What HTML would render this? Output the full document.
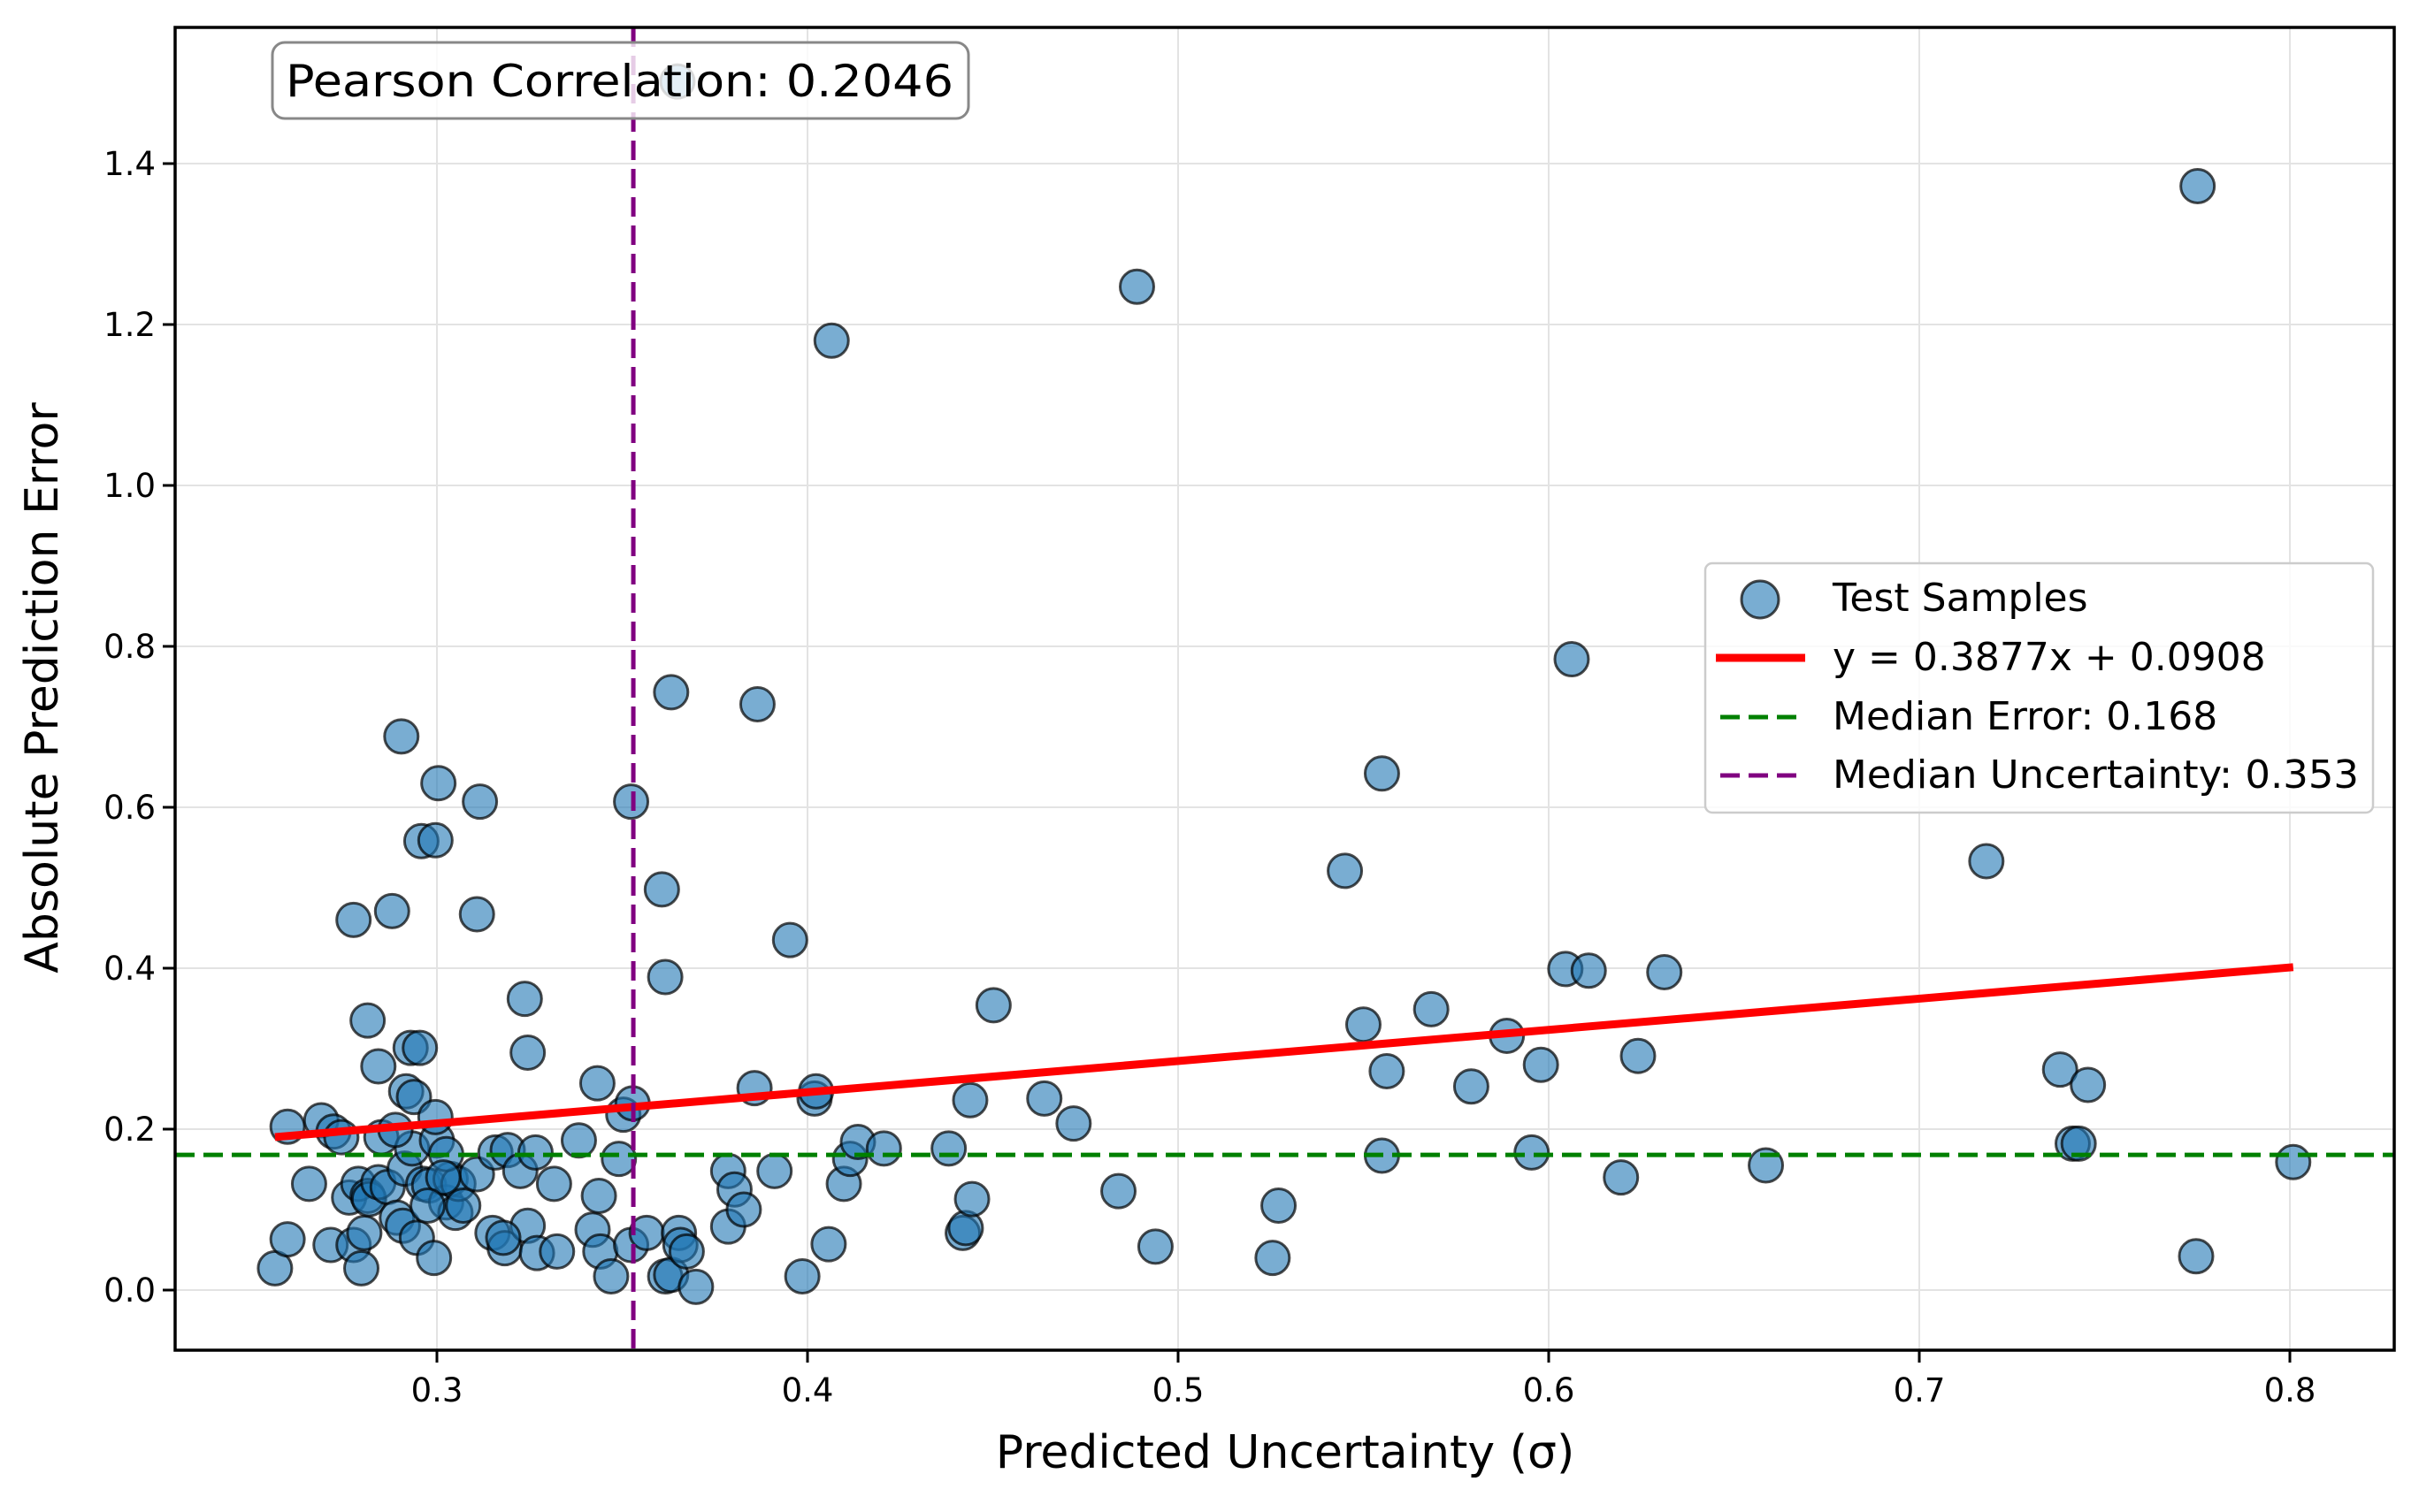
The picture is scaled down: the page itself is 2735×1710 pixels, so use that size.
<!DOCTYPE html>
<html><head><meta charset="utf-8"><style>
html,body{margin:0;padding:0;background:#fff;}
svg{display:block;font-family:"DejaVu Sans","Liberation Sans",sans-serif;}
</style></head><body>
<svg id="chart" width="2735" height="1710" viewBox="0 0 2735 1710">
<g id="grid"></g>
<g id="refs"></g>
<g id="points"></g>
<g id="fit"></g>
<g id="axes"></g>
<text x="1453" y="1660" font-size="52" text-anchor="middle">Predicted Uncertainty (σ)</text>
<text transform="translate(65,778) rotate(-90)" font-size="52" text-anchor="middle">Absolute Prediction Error</text>
<g>
<rect x="308" y="48" width="787" height="86" rx="14" fill="#fff" fill-opacity="0.8" stroke="#888" stroke-width="3"/>
<text x="323" y="109" font-size="50" textLength="755" lengthAdjust="spacingAndGlyphs">Pearson Correlation: 0.2046</text>
</g>
<g>
<rect x="1928" y="637" width="755" height="282" rx="8" fill="#fff" fill-opacity="0.8" stroke="#ccc" stroke-width="2.5"/>
<g>
<circle cx="1990" cy="678" r="21" fill="#1f77b4" fill-opacity="0.6" stroke="#000" stroke-opacity="0.7" stroke-width="3"/>
<text x="2072" y="691" font-size="44">Test Samples</text></g>
<g>
<line x1="1940" y1="744" x2="2041" y2="744" stroke="red" stroke-width="9"/>
<text x="2072" y="758" font-size="44">y = 0.3877x + 0.0908</text></g>
<g>
<line x1="1945" y1="811" x2="2041" y2="811" stroke="green" stroke-width="5" stroke-dasharray="22,10"/>
<text x="2072" y="825" font-size="44">Median Error: 0.168</text></g>
<g>
<line x1="1945" y1="877" x2="2041" y2="877" stroke="purple" stroke-width="5" stroke-dasharray="22,10"/>
<text x="2072" y="891" font-size="44" textLength="595" lengthAdjust="spacingAndGlyphs">Median Uncertainty: 0.353</text></g>
</g>
</svg>
<script>
const xVals=[0.2563,0.2597,0.2597,0.2655,0.2688,0.2713,0.2721,0.2742,0.2763,0.2775,0.2788,0.2796,0.2804,0.2813,0.2817,0.2842,0.2850,0.2867,0.2892,0.2908,0.2913,0.2933,0.2946,0.2963,0.2979,0.2992,0.3000,0.3025,0.3037,0.3050,0.3058,0.3071,0.3108,0.3150,0.3158,0.3183,0.3191,0.3225,0.3245,0.3266,0.3270,0.3316,0.3324,0.3383,0.3420,0.3433,0.3437,0.3441,0.3470,0.3491,0.3503,0.3524,0.3528,0.3566,0.3616,0.3632,0.3653,0.3657,0.3674,0.3699,0.3786,0.3786,0.3803,0.3828,0.3857,0.3911,0.3986,0.4019,0.4023,0.4057,0.4098,0.4115,0.4136,0.4206,0.4381,0.4419,0.4427,0.4439,0.4444,0.4502,0.4639,0.4718,0.4839,0.4939,0.5255,0.5271,0.5450,0.5500,0.5550,0.5550,0.5563,0.5683,0.5791,0.5887,0.5954,0.5979,0.6045,0.6062,0.6108,0.6195,0.6241,0.6312,0.6586,0.7181,0.7380,0.7414,0.7430,0.7455,0.7747,0.7751,0.8009,0.4889,0.4065,0.3632,0.3865,0.3524,0.3607,0.3616,0.3953,0.2904,0.3004,0.2958,0.2996,0.3116,0.3108,0.2879,0.2775,0.2813,0.3237,0.3245,0.2842,0.2917,0.2929,0.2954,0.2938,0.2996,0.3025,0.3649,0.3017,0.2888,0.2975,0.3179];
const yVals=[0.027,0.063,0.203,0.132,0.211,0.056,0.197,0.190,0.115,0.056,0.132,0.027,0.071,0.117,0.113,0.134,0.190,0.128,0.090,0.080,0.151,0.176,0.065,0.132,0.130,0.040,0.186,0.109,0.138,0.096,0.132,0.105,0.144,0.071,0.171,0.052,0.174,0.148,0.080,0.171,0.046,0.132,0.048,0.186,0.075,0.257,0.117,0.048,0.017,0.163,0.218,0.056,0.232,0.071,0.017,0.019,0.071,0.056,0.048,0.004,0.148,0.079,0.125,0.100,0.251,0.148,0.017,0.238,0.247,0.057,0.132,0.163,0.184,0.176,0.176,0.071,0.077,0.236,0.113,0.354,0.238,0.207,0.123,0.054,0.040,0.105,0.521,0.330,0.642,0.167,0.272,0.349,0.253,0.316,0.171,0.280,0.399,0.784,0.397,0.140,0.291,0.395,0.155,0.533,0.274,0.182,0.182,0.255,0.042,1.372,0.159,1.247,1.180,0.743,0.728,0.607,0.498,0.389,0.435,0.688,0.630,0.558,0.559,0.607,0.467,0.471,0.460,0.335,0.362,0.295,0.278,0.247,0.301,0.301,0.240,0.215,0.169,1.502,0.140,0.199,0.105,0.065];
const xTicks=[0.3,0.4,0.5,0.6,0.7,0.8];
const yTicks=[0.0,0.2,0.4,0.6,0.8,1.0,1.2,1.4];
const fitSlope=[0.3877], fitIntercept=[0.0908], fitRange=[0.2563,0.8009];
const medianError=[0.168], medianUnc=[0.353];

const L=198,R=2707,T=31,B=1527;
const X=v=>494+(v-0.3)*4190;
const Y=v=>1459-v*910;
const NS='http://www.w3.org/2000/svg';
function mk(parent,tag,attrs){const e=document.createElementNS(NS,tag);for(const k in attrs)e.setAttribute(k,attrs[k]);parent.appendChild(e);return e;}
const grid=document.getElementById('grid'),axes=document.getElementById('axes');
xTicks.forEach(t=>{
  const g=mk(grid,'line',{x1:X(t),x2:X(t),y1:T,y2:B,stroke:'#e3e3e3','stroke-width':2});
  
  
  const tk=mk(axes,'line',{x1:X(t),x2:X(t),y1:B,y2:B+14,stroke:'#000','stroke-width':3});
  
  
  const tx=mk(axes,'text',{x:X(t),y:B+58,'font-size':37,'text-anchor':'middle'});
  tx.textContent=t.toFixed(1);
  
  
});
yTicks.forEach(t=>{
  const g=mk(grid,'line',{x1:L,x2:R,y1:Y(t),y2:Y(t),stroke:'#e3e3e3','stroke-width':2});
  
  
  const tk=mk(axes,'line',{x1:L-14,x2:L,y1:Y(t),y2:Y(t),stroke:'#000','stroke-width':3});
  
  
  const tx=mk(axes,'text',{x:L-22,y:Y(t)+13,'font-size':37,'text-anchor':'end'});
  tx.textContent=t.toFixed(1);
  
  
});
const frame=mk(axes,'rect',{x:L,y:T,width:R-L,height:B-T,fill:'none',stroke:'#000','stroke-width':3.5});


const pts=document.getElementById('points');
xVals.forEach((x,i)=>{
  const c=mk(pts,'circle',{cx:X(x),cy:Y(yVals[i]),r:19,fill:'#1f77b4','fill-opacity':0.6,stroke:'#000','stroke-opacity':0.7,'stroke-width':3});
  
  
});
const fitG=document.getElementById('fit');
const fl=mk(fitG,'line',{x1:X(fitRange[0]),y1:Y(fitSlope[0]*fitRange[0]+fitIntercept[0]),x2:X(fitRange[1]),y2:Y(fitSlope[0]*fitRange[1]+fitIntercept[0]),stroke:'red','stroke-width':9});


const ge=mk(fitG,'line',{x1:L,x2:R,y1:Y(medianError[0]),y2:Y(medianError[0]),stroke:'green','stroke-width':5,'stroke-dasharray':'22,10'});


const pu=mk(fitG,'line',{x1:X(medianUnc[0]),x2:X(medianUnc[0]),y1:T,y2:B,stroke:'purple','stroke-width':5,'stroke-dasharray':'22,10'});


</script>
</body></html>
